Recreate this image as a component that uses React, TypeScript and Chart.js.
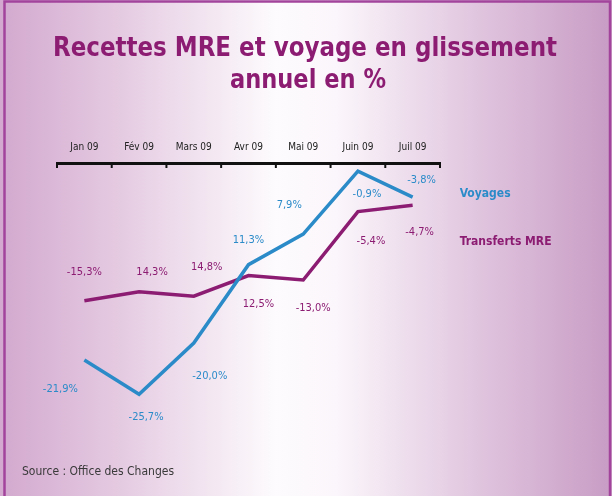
import React, { useEffect, useRef } from "react";
import { Chart, registerables } from "chart.js";

Chart.register(...registerables);

const categories = ["Jan 09", "Fév 09", "Mars 09", "Avr 09", "Mai 09", "Juin 09", "Juil 09"];
const voyages = [-21.9, -25.7, -20.0, -11.3, -7.9, -0.9, -3.8];
const transferts = [-15.3, -14.3, -14.8, -12.5, -13.0, -5.4, -4.7];
const voyagesLabels = ["-21,9%", "-25,7%", "-20,0%", "11,3%", "7,9%", "-0,9%", "-3,8%"];
const transfertsLabels = ["-15,3%", "14,3%", "14,8%", "12,5%", "-13,0%", "-5,4%", "-4,7%"];
const seriesNames = ["Voyages", "Transferts MRE"];

const titleLines = ["Recettes MRE et voyage en glissement", "annuel en %"];
const sourceText = "Source : Office des Changes";

// label offsets (layout only)
const voyagesOffsets = [[-24, 29], [7, 23], [16, 33], [0, -25], [-14, -29], [9, 23], [9, -17]];
const transfertsOffsets = [[0, -29], [13, -20], [13, -29], [10, 29], [10, 28], [13, 30], [7, 27]];

const BLUE = "#2b8bc9";
const PURPLE = "#8c1c72";
const FAMILY = '"DejaVu Sans Condensed", "Liberation Sans Narrow", "Liberation Sans", sans-serif';
const LABEL_FONT = "11px " + FAMILY;

const decorPlugin = {
  id: "decor",
  beforeDraw(chart: any) {
    const { ctx, width, height } = chart;
    ctx.save();
    const g = ctx.createLinearGradient(0, 0, width, 0);
    g.addColorStop(0, "#d3a9cf");
    g.addColorStop(0.2, "#e5cbe2");
    g.addColorStop(0.45, "#fdfbfd");
    g.addColorStop(0.55, "#fbf6fb");
    g.addColorStop(0.8, "#dec1dc");
    g.addColorStop(1, "#c89cc5");
    ctx.fillStyle = g;
    ctx.fillRect(0, 0, width, height);
    ctx.strokeStyle = "#a2449c";
    ctx.lineWidth = 2.5;
    ctx.beginPath();
    ctx.moveTo(4.5, height);
    ctx.lineTo(4.5, 1.5);
    ctx.lineTo(width - 2, 1.5);
    ctx.lineTo(width - 2, height);
    ctx.stroke();

    // title
    ctx.fillStyle = PURPLE;
    ctx.textAlign = "center";
    ctx.textBaseline = "alphabetic";
    ctx.font = "bold 27px " + FAMILY;
    ctx.fillText(titleLines[0], 305, 56, 504);
    ctx.fillText(titleLines[1], 308, 88, 156);

    // source
    ctx.fillStyle = "#3a3a3a";
    ctx.textAlign = "left";
    ctx.font = "12px " + FAMILY;
    ctx.fillText(sourceText, 22, 475, 178);
    ctx.restore();
  },
  afterDraw(chart: any) {
    const { ctx, chartArea } = chart;
    const xs = chart.scales.x;
    const n = categories.length;
    ctx.save();
    ctx.strokeStyle = "#111";
    ctx.lineWidth = 2;
    for (let i = 0; i <= n; i++) {
      const x = xs.left + (i * xs.width) / n;
      ctx.beginPath();
      ctx.moveTo(x, chartArea.top);
      ctx.lineTo(x, chartArea.top + 5);
      ctx.stroke();
    }
    // data labels
    ctx.font = LABEL_FONT;
    ctx.textAlign = "center";
    ctx.textBaseline = "middle";
    const sets = [
      { labels: voyagesLabels, offs: voyagesOffsets, color: BLUE },
      { labels: transfertsLabels, offs: transfertsOffsets, color: PURPLE },
    ];
    sets.forEach((s, di) => {
      const meta = chart.getDatasetMeta(di);
      ctx.fillStyle = s.color;
      meta.data.forEach((pt: any, i: number) => {
        ctx.fillText(s.labels[i], pt.x + s.offs[i][0], pt.y + s.offs[i][1]);
      });
    });
    // series names near end of lines
    ctx.textAlign = "left";
    ctx.font = "bold 12px " + FAMILY;
    const vLast = chart.getDatasetMeta(0).data[n - 1];
    const tLast = chart.getDatasetMeta(1).data[n - 1];
    ctx.fillStyle = BLUE;
    ctx.fillText(seriesNames[0], vLast.x + 47, vLast.y - 3);
    ctx.fillStyle = PURPLE;
    ctx.fillText(seriesNames[1], tLast.x + 47, tLast.y + 37);
    ctx.restore();
  },
};

export default function App() {
  const ref = useRef<HTMLCanvasElement>(null);
  useEffect(() => {
    if (!ref.current) return;
    const chart = new Chart(ref.current, {
      type: "line",
      data: {
        labels: categories,
        datasets: [
          {
            label: seriesNames[0],
            data: voyages,
            borderColor: BLUE,
            borderWidth: 3.5,
            pointRadius: 0,
            tension: 0,
            fill: false,
          },
          {
            label: seriesNames[1],
            data: transferts,
            borderColor: PURPLE,
            borderWidth: 3.5,
            pointRadius: 0,
            tension: 0,
            fill: false,
          },
        ],
      },
      options: {
        animation: false,
        responsive: false,
        events: [],
        layout: { padding: { left: 57, right: 172, top: 131, bottom: 81 } },
        plugins: { legend: { display: false }, title: { display: false }, tooltip: { enabled: false } },
        scales: {
          x: {
            position: "top",
            offset: true,
            grid: { display: false, drawTicks: false },
            border: { display: true, color: "#111", width: 3 },
            ticks: {
              color: "#222",
              padding: 10,
              maxRotation: 0,
              autoSkip: false,
              font: { size: 10, family: FAMILY },
            },
          },
          y: { display: false, min: -28, max: 0 },
        },
      },
      plugins: [decorPlugin],
    });
    return () => chart.destroy();
  }, []);
  return (
    <div style={{ position: "fixed", left: 0, top: 0, width: 612, height: 496 }}>
      <canvas ref={ref} width={612} height={496} style={{ display: "block" }} />
    </div>
  );
}
